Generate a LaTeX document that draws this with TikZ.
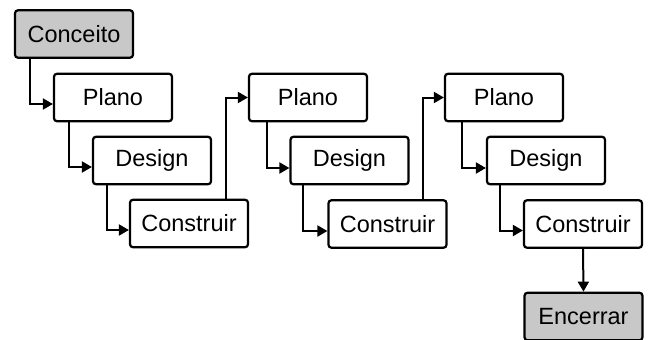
\documentclass[tikz,border=0pt]{standalone}
\usepackage{fontspec}
\setmainfont{Liberation Sans}
\usetikzlibrary{arrows.meta}
\definecolor{boxgray}{RGB}{200,200,200}
\begin{document}
\begin{tikzpicture}[x=1pt,y=-1pt,
  stagebox/.style={draw=black,line width=2.2pt,rounded corners=3pt,fill=white,
    minimum width=118pt,minimum height=47.5pt,inner sep=0pt,
    font=\fontsize{23.5pt}{26pt}\selectfont},
  endbox/.style={stagebox,fill=boxgray},
  conn/.style={line width=2pt,-{Triangle[length=10pt,width=11pt]}}]
\useasboundingbox (0,0) rectangle (649,340);
\node[endbox]   (conceito) at (74,34) {Conceito};
\node[stagebox] (plano1) at (113,97.5) {Plano};
\node[stagebox] (design1) at (152,160.5) {Design};
\node[stagebox] (construir1) at (189,223.5) {Construir};
\node[stagebox] (plano2) at (308,97.5) {Plano};
\node[stagebox] (design2) at (349.5,160.5) {Design};
\node[stagebox] (construir2) at (387.5,224) {Construir};
\node[stagebox] (plano3) at (504,97.5) {Plano};
\node[stagebox] (design3) at (546,160.5) {Design};
\node[stagebox] (construir3) at (583,224) {Construir};
\node[endbox]   (encerrar) at (583.5,316.5) {Encerrar};
\draw[conn] ([xshift=16pt]conceito.south west) |- ([yshift=-6.5pt]plano1.west);
\draw[conn] ([xshift=16pt]plano1.south west) |- ([yshift=-6.5pt]design1.west);
\draw[conn] ([xshift=15pt]design1.south west) |- ([yshift=-6.5pt]construir1.west);
\draw[conn] ([xshift=-23pt]construir1.north east) |- (plano2.west);
\draw[conn] ([xshift=19pt]plano2.south west) |- ([yshift=-7.5pt]design2.west);
\draw[conn] ([xshift=14pt]design2.south west) |- ([yshift=-7pt]construir2.west);
\draw[conn] ([xshift=-25pt]construir2.north east) |- (plano3.west);
\draw[conn] ([xshift=18pt]plano3.south west) |- ([yshift=-7.5pt]design3.west);
\draw[conn] ([xshift=14pt]design3.south west) |- ([yshift=-6.5pt]construir3.west);
\draw[conn] (construir3.south) -- (encerrar.north);
\end{tikzpicture}
\end{document}
